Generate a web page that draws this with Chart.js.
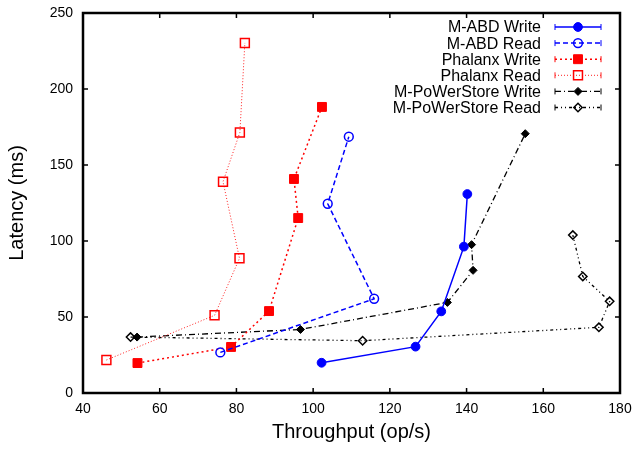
<!DOCTYPE html>
<html>
<head>
<meta charset="utf-8">
<script src="https://cdn.jsdelivr.net/npm/chart.js@4.4.0/dist/chart.umd.min.js"></script>
<style>
  html, body { margin:0; padding:0; background:#fff; }
</style>
</head>
<body>
<canvas id="latChart" width="637" height="450"></canvas>
<script>
// axis ranges
const X_MIN = 40, X_MAX = 180, X_STEP = 20;
const Y_MIN = 0,  Y_MAX = 250, Y_STEP = 50;

// series (throughput op/s, latency ms)
const abdWriteX = [102.2, 126.7, 133.4, 139.3, 140.2];
const abdWriteY = [19.9, 30.5, 53.7, 96.3, 130.9];

const abdReadX = [75.8, 115.9, 103.8, 109.3];
const abdReadY = [26.7, 62.0, 124.5, 168.6];

const phxWriteX = [54.2, 78.6, 88.5, 96.1, 95.0, 102.3];
const phxWriteY = [19.7, 30.3, 53.9, 115.1, 140.8, 188.2];

const phxReadX = [46.1, 74.3, 80.8, 76.5, 80.9, 82.2];
const phxReadY = [21.7, 51.1, 88.6, 139.0, 171.4, 230.3];

const pwsWriteX = [54.1, 96.7, 135.0, 141.7, 141.3, 155.3];
const pwsWriteY = [36.8, 41.8, 59.6, 80.7, 97.6, 170.6];

const pwsReadX = [52.4, 112.9, 174.5, 177.3, 170.3, 167.7];
const pwsReadY = [36.8, 34.4, 43.2, 60.3, 76.7, 103.9];

const pts = (xs, ys) => xs.map((x, i) => ({ x, y: ys[i] }));

const FONT = '"Liberation Sans", Arial, Helvetica, sans-serif';

// gnuplot-like frame with inward ticks on all four sides
const frame = {
  id: 'frame',
  afterDatasetsDraw(chart) {
    const { ctx, chartArea: a, scales } = chart;
    ctx.save();
    ctx.strokeStyle = '#000';
    ctx.lineWidth = 1.5;
    const tl = 5;
    ctx.beginPath();
    scales.x.ticks.forEach(t => {
      const px = scales.x.getPixelForValue(t.value);
      ctx.moveTo(px, a.bottom); ctx.lineTo(px, a.bottom - tl);
      ctx.moveTo(px, a.top);    ctx.lineTo(px, a.top + tl);
    });
    scales.y.ticks.forEach(t => {
      const py = scales.y.getPixelForValue(t.value);
      ctx.moveTo(a.left, py);  ctx.lineTo(a.left + tl, py);
      ctx.moveTo(a.right, py); ctx.lineTo(a.right - tl, py);
    });
    ctx.stroke();
    ctx.lineWidth = 2.5;
    ctx.strokeRect(a.left, a.top, a.right - a.left, a.bottom - a.top);
    ctx.restore();
  }
};

// gnuplot-style key: text right-aligned, sample line to the right
const key = {
  id: 'key',
  afterDraw(chart) {
    const { ctx } = chart;
    const textRight = 541, x0 = 555, x1 = 601, xm = 578;
    ctx.save();
    ctx.font = '16px ' + FONT;
    ctx.textAlign = 'right';
    ctx.textBaseline = 'middle';
    chart.data.datasets.forEach((ds, i) => {
      const y = 27 + i * 16.1;
      ctx.fillStyle = '#000';
      ctx.fillText(ds.label, textRight, y + 1);
      ctx.strokeStyle = ds.borderColor;
      ctx.lineWidth = ds.borderWidth;
      ctx.setLineDash(ds.borderDash || []);
      ctx.beginPath(); ctx.moveTo(x0, y); ctx.lineTo(x1, y); ctx.stroke();
      ctx.setLineDash([]);
      ctx.lineWidth = 1;
      ctx.beginPath();
      ctx.moveTo(x0, y - 3); ctx.lineTo(x0, y + 3);
      ctx.moveTo(x1, y - 3); ctx.lineTo(x1, y + 3);
      ctx.stroke();
      ctx.fillStyle = ds.pointBackgroundColor;
      ctx.strokeStyle = ds.pointBorderColor;
      ctx.lineWidth = ds.pointBorderWidth;
      Chart.helpers.drawPoint(ctx, { pointStyle: ds.pointStyle, radius: ds.pointRadius, borderWidth: ds.pointBorderWidth, rotation: 0 }, xm, y);
    });
    ctx.restore();
  }
};

const none = 'rgba(0,0,0,0)';

new Chart(document.getElementById('latChart'), {
  type: 'scatter',
  data: { datasets: [
    { label:'M-ABD Write', data:pts(abdWriteX, abdWriteY), showLine:true,
      borderColor:'#0000ff', borderWidth:1.5, pointStyle:'circle', pointRadius:4.4,
      pointBackgroundColor:'#0000ff', pointBorderColor:'#0000ff', pointBorderWidth:1 },
    { label:'M-ABD Read', data:pts(abdReadX, abdReadY), showLine:true,
      borderColor:'#0000ff', borderWidth:1.5, borderDash:[5,3], pointStyle:'circle', pointRadius:4.4,
      pointBackgroundColor:none, pointBorderColor:'#0000ff', pointBorderWidth:1.5 },
    { label:'Phalanx Write', data:pts(phxWriteX, phxWriteY), showLine:true,
      borderColor:'#ff0000', borderWidth:1.5, borderDash:[2,3], pointStyle:'rect', pointRadius:6.3,
      pointBackgroundColor:'#ff0000', pointBorderColor:'#ff0000', pointBorderWidth:1 },
    { label:'Phalanx Read', data:pts(phxReadX, phxReadY), showLine:true,
      borderColor:'#ff2020', borderWidth:1, borderDash:[1,2], pointStyle:'rect', pointRadius:6.3,
      pointBackgroundColor:none, pointBorderColor:'#ff0000', pointBorderWidth:1.5 },
    { label:'M-PoWerStore Write', data:pts(pwsWriteX, pwsWriteY), showLine:true,
      borderColor:'#000000', borderWidth:1.3, borderDash:[6,3,1,3], pointStyle:'rectRot', pointRadius:4,
      pointBackgroundColor:'#000000', pointBorderColor:'#000000', pointBorderWidth:1 },
    { label:'M-PoWerStore Read', data:pts(pwsReadX, pwsReadY), showLine:true,
      borderColor:'#000000', borderWidth:1.3, borderDash:[3,3,1,3,1,3], pointStyle:'rectRot', pointRadius:4.2,
      pointBackgroundColor:none, pointBorderColor:'#000000', pointBorderWidth:1.5 }
  ]},
  options: {
    responsive:false, animation:false,
    layout:{ padding:{ top:13, right:17, left:0, bottom:0 } },
    plugins:{ legend:{ display:false }, tooltip:{ enabled:false } },
    elements:{ line:{ tension:0 } },
    scales:{
      x:{ type:'linear', min:X_MIN, max:X_MAX,
        grid:{ display:false, drawTicks:false }, border:{ display:false },
        ticks:{ stepSize:X_STEP, color:'#000', padding:8, font:{ family:FONT, size:14 } },
        title:{ display:true, text:'Throughput (op/s)', color:'#000', padding:{ top:0, bottom:6 }, font:{ family:FONT, size:20 } },
        afterFit: s => { s.height = 57; s.paddingLeft = 0; s.paddingRight = 0; } },
      y:{ type:'linear', min:Y_MIN, max:Y_MAX,
        grid:{ display:false, drawTicks:false }, border:{ display:false },
        ticks:{ stepSize:Y_STEP, color:'#000', padding:10, font:{ family:FONT, size:14 } },
        title:{ display:true, text:'Latency (ms)', color:'#000', padding:{ top:5, bottom:0 }, font:{ family:FONT, size:20 } },
        afterFit: s => { s.width = 83; s.paddingTop = 0; s.paddingBottom = 0; } }
    }
  },
  plugins:[frame, key]
});
</script>
</body>
</html>
